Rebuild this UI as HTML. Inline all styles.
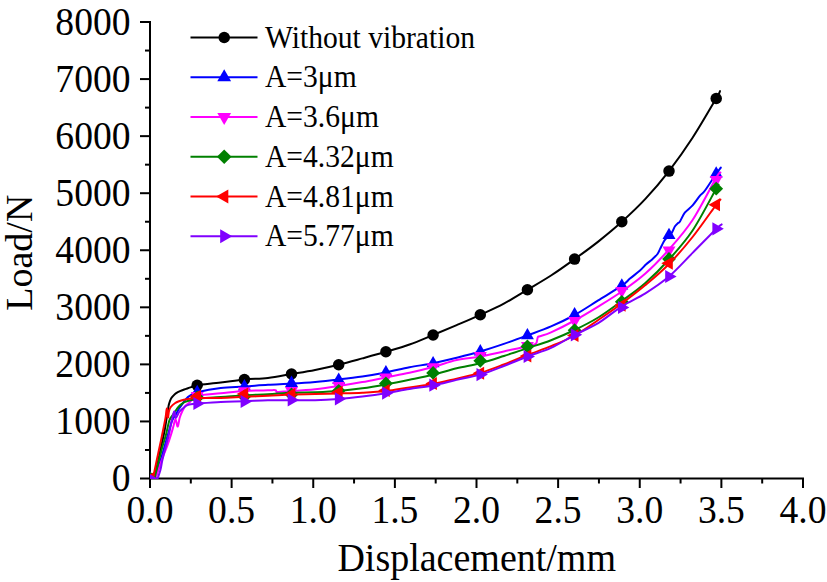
<!DOCTYPE html>
<html><head><meta charset="utf-8"><style>
html,body{margin:0;padding:0;background:#fff;}
body{width:827px;height:582px;overflow:hidden;font-family:"Liberation Serif",serif;}
svg{display:block;}
</style></head><body>
<svg width="827" height="582" viewBox="0 0 827 582">
<defs><clipPath id="pc"><rect x="149.9" y="0" width="680" height="479.1"/></clipPath></defs>
<rect width="827" height="582" fill="#fff"/>
<g stroke="#000" stroke-width="2" fill="none">
<line x1="150" y1="21" x2="150" y2="479.5"/>
<line x1="149" y1="478.5" x2="804" y2="478.5"/>
<line x1="140" y1="478.50" x2="150" y2="478.50"/>
<line x1="140" y1="421.44" x2="150" y2="421.44"/>
<line x1="140" y1="364.38" x2="150" y2="364.38"/>
<line x1="140" y1="307.32" x2="150" y2="307.32"/>
<line x1="140" y1="250.26" x2="150" y2="250.26"/>
<line x1="140" y1="193.20" x2="150" y2="193.20"/>
<line x1="140" y1="136.14" x2="150" y2="136.14"/>
<line x1="140" y1="79.08" x2="150" y2="79.08"/>
<line x1="140" y1="22.02" x2="150" y2="22.02"/>
<line x1="145" y1="449.97" x2="150" y2="449.97"/>
<line x1="145" y1="392.91" x2="150" y2="392.91"/>
<line x1="145" y1="335.85" x2="150" y2="335.85"/>
<line x1="145" y1="278.79" x2="150" y2="278.79"/>
<line x1="145" y1="221.73" x2="150" y2="221.73"/>
<line x1="145" y1="164.67" x2="150" y2="164.67"/>
<line x1="145" y1="107.61" x2="150" y2="107.61"/>
<line x1="145" y1="50.55" x2="150" y2="50.55"/>
<line x1="150.00" y1="478.5" x2="150.00" y2="488"/>
<line x1="231.62" y1="478.5" x2="231.62" y2="488"/>
<line x1="313.25" y1="478.5" x2="313.25" y2="488"/>
<line x1="394.88" y1="478.5" x2="394.88" y2="488"/>
<line x1="476.50" y1="478.5" x2="476.50" y2="488"/>
<line x1="558.12" y1="478.5" x2="558.12" y2="488"/>
<line x1="639.75" y1="478.5" x2="639.75" y2="488"/>
<line x1="721.38" y1="478.5" x2="721.38" y2="488"/>
<line x1="803.00" y1="478.5" x2="803.00" y2="488"/>
<line x1="190.81" y1="478.5" x2="190.81" y2="483.5"/>
<line x1="272.44" y1="478.5" x2="272.44" y2="483.5"/>
<line x1="354.06" y1="478.5" x2="354.06" y2="483.5"/>
<line x1="435.69" y1="478.5" x2="435.69" y2="483.5"/>
<line x1="517.31" y1="478.5" x2="517.31" y2="483.5"/>
<line x1="598.94" y1="478.5" x2="598.94" y2="483.5"/>
<line x1="680.56" y1="478.5" x2="680.56" y2="483.5"/>
<line x1="762.19" y1="478.5" x2="762.19" y2="483.5"/>
</g>
<g clip-path="url(#pc)">
<path d="M154.30,479.00 C154.62,477.50 155.00,475.67 156.20,470.00 C157.40,464.33 160.08,451.67 161.50,445.00 C162.92,438.33 163.67,435.58 164.70,430.00 C165.73,424.42 167.03,415.62 167.70,411.50 C168.37,407.38 168.35,406.97 168.70,405.30 C169.05,403.63 169.38,402.67 169.80,401.50 C170.22,400.33 170.60,399.28 171.20,398.30 C171.80,397.32 172.63,396.42 173.40,395.60 C174.17,394.78 174.70,394.15 175.80,393.40 C176.90,392.65 178.28,391.85 180.00,391.10 C181.72,390.35 184.23,389.57 186.10,388.90 C187.97,388.23 189.35,387.72 191.20,387.10 C193.05,386.48 192.25,385.95 197.18,385.20 C202.11,384.45 212.91,383.55 220.77,382.60 C228.63,381.65 236.50,380.28 244.36,379.50 C252.22,378.72 260.09,378.82 267.95,377.90 C275.81,376.98 283.68,375.33 291.54,374.00 C299.40,372.67 307.27,371.45 315.13,369.90 C322.99,368.35 330.86,366.62 338.72,364.70 C346.58,362.78 354.45,360.55 362.31,358.40 C370.17,356.25 378.04,354.12 385.90,351.80 C393.76,349.48 401.63,347.30 409.49,344.50 C417.35,341.70 425.22,338.23 433.08,335.00 C440.94,331.77 448.81,328.47 456.67,325.10 C464.53,321.73 472.40,318.38 480.26,314.80 C488.12,311.22 495.99,307.78 503.85,303.60 C511.71,299.42 519.58,294.38 527.44,289.70 C535.30,285.02 543.17,280.60 551.03,275.50 C558.89,270.40 566.76,264.75 574.62,259.10 C582.48,253.45 590.35,247.82 598.21,241.60 C606.07,235.38 613.94,228.92 621.80,221.80 C629.66,214.68 637.53,207.35 645.39,198.90 C653.25,190.45 661.12,181.28 668.98,171.10 C676.84,160.92 684.71,149.90 692.57,137.80 C700.43,125.70 711.59,106.28 716.16,98.50 C720.73,90.72 719.36,92.33 720.00,91.10" fill="none" stroke="#000000" stroke-width="2.0" stroke-linejoin="round" stroke-linecap="round"/>
<circle cx="150.2" cy="478.9" r="6.04" fill="#000000"/>
<circle cx="197.2" cy="385.2" r="5.75" fill="#000000"/>
<circle cx="244.4" cy="379.5" r="5.75" fill="#000000"/>
<circle cx="291.5" cy="374.0" r="5.75" fill="#000000"/>
<circle cx="338.7" cy="364.7" r="5.75" fill="#000000"/>
<circle cx="385.9" cy="351.8" r="5.75" fill="#000000"/>
<circle cx="433.1" cy="335.0" r="5.75" fill="#000000"/>
<circle cx="480.3" cy="314.8" r="5.75" fill="#000000"/>
<circle cx="527.4" cy="289.7" r="5.75" fill="#000000"/>
<circle cx="574.6" cy="259.1" r="5.75" fill="#000000"/>
<circle cx="621.8" cy="221.8" r="5.75" fill="#000000"/>
<circle cx="669.0" cy="171.1" r="5.75" fill="#000000"/>
<circle cx="716.2" cy="98.5" r="5.75" fill="#000000"/>
<path d="M155.20,479.00 C155.53,477.83 155.90,476.50 157.20,472.00 C158.50,467.50 161.23,458.17 163.00,452.00 C164.77,445.83 166.27,440.27 167.80,435.00 C169.33,429.73 170.90,423.75 172.20,420.40 C173.50,417.05 174.47,416.85 175.60,414.90 C176.73,412.95 177.85,410.53 179.00,408.70 C180.15,406.87 181.35,405.50 182.50,403.90 C183.65,402.30 184.65,400.47 185.90,399.10 C187.15,397.73 188.12,396.83 190.00,395.70 C191.88,394.57 192.05,393.60 197.18,392.30 C202.31,391.00 212.91,388.87 220.77,387.90 C228.63,386.93 236.50,387.02 244.36,386.50 C252.22,385.98 260.09,385.28 267.95,384.80 C275.81,384.32 283.68,384.08 291.54,383.60 C299.40,383.12 307.27,382.60 315.13,381.90 C322.99,381.20 330.86,380.32 338.72,379.40 C346.58,378.48 354.45,377.57 362.31,376.40 C370.17,375.23 378.04,373.92 385.90,372.40 C393.76,370.88 401.63,368.83 409.49,367.30 C417.35,365.77 425.22,364.80 433.08,363.20 C440.94,361.60 448.81,359.65 456.67,357.70 C464.53,355.75 472.40,353.80 480.26,351.50 C488.12,349.20 495.99,346.58 503.85,343.90 C511.71,341.22 519.58,338.32 527.44,335.40 C535.30,332.48 543.17,329.80 551.03,326.40 C558.89,323.00 566.76,319.33 574.62,315.00 C582.48,310.67 590.35,305.28 598.21,300.40 C606.07,295.52 616.50,289.33 621.80,285.70 C627.10,282.07 626.97,281.13 630.00,278.60 C633.03,276.07 637.30,272.88 640.00,270.50 C642.70,268.12 644.13,266.18 646.20,264.30 C648.27,262.42 650.52,260.92 652.40,259.20 C654.28,257.48 656.22,255.72 657.50,254.00 C658.78,252.28 659.32,250.45 660.10,248.90 C660.88,247.35 661.43,246.17 662.20,244.70 C662.97,243.23 663.57,241.67 664.70,240.10 C665.83,238.53 667.78,236.58 669.00,235.30 C670.22,234.02 671.00,233.92 672.00,232.40 C673.00,230.88 673.98,227.75 675.00,226.20 C676.02,224.65 677.27,223.88 678.10,223.10 C678.93,222.32 678.88,223.23 680.00,221.50 C681.12,219.77 682.70,215.38 684.80,212.70 C686.90,210.02 690.07,208.23 692.60,205.40 C695.13,202.57 697.93,198.18 700.00,195.70 C702.07,193.22 702.31,194.15 705.00,190.50 C707.69,186.85 713.53,177.62 716.16,173.80 C718.79,169.98 720.03,168.63 720.80,167.60" fill="none" stroke="#0000FF" stroke-width="2.0" stroke-linejoin="round" stroke-linecap="round"/>
<polygon points="150.2,471.0 157.0,482.9 143.4,482.9" fill="#0000FF"/>
<polygon points="197.2,384.8 203.7,396.1 190.7,396.1" fill="#0000FF"/>
<polygon points="244.4,379.1 250.9,390.4 237.9,390.4" fill="#0000FF"/>
<polygon points="291.5,375.6 298.0,386.9 285.0,386.9" fill="#0000FF"/>
<polygon points="338.7,372.4 345.2,383.7 332.2,383.7" fill="#0000FF"/>
<polygon points="385.9,364.9 392.4,376.2 379.4,376.2" fill="#0000FF"/>
<polygon points="433.1,355.9 439.6,367.2 426.6,367.2" fill="#0000FF"/>
<polygon points="480.3,344.1 486.8,355.4 473.8,355.4" fill="#0000FF"/>
<polygon points="527.4,327.9 533.9,339.2 520.9,339.2" fill="#0000FF"/>
<polygon points="574.6,306.9 581.1,318.2 568.1,318.2" fill="#0000FF"/>
<polygon points="621.8,278.2 628.3,289.5 615.3,289.5" fill="#0000FF"/>
<polygon points="669.0,227.8 675.5,239.1 662.5,239.1" fill="#0000FF"/>
<polygon points="716.2,166.3 722.7,177.6 709.7,177.6" fill="#0000FF"/>
<path d="M155.10,479.00 C155.63,477.50 156.88,474.00 158.30,470.00 C159.72,466.00 162.05,459.17 163.60,455.00 C165.15,450.83 166.38,448.33 167.60,445.00 C168.82,441.67 169.92,438.17 170.90,435.00 C171.88,431.83 172.73,428.67 173.50,426.00 C174.27,423.33 174.80,418.90 175.50,419.00 C176.20,419.10 177.00,426.82 177.70,426.60 C178.40,426.38 178.90,420.33 179.70,417.70 C180.50,415.07 181.58,412.75 182.50,410.80 C183.42,408.85 184.17,407.27 185.20,406.00 C186.23,404.73 187.40,404.37 188.70,403.20 C190.00,402.03 191.59,400.28 193.00,399.00 C194.41,397.72 192.55,396.47 197.18,395.50 C201.81,394.53 212.91,393.95 220.77,393.20 C228.63,392.45 236.50,391.48 244.36,391.00 C252.22,390.52 262.76,390.43 267.95,390.30 C273.14,390.17 274.06,389.92 275.50,390.20 C276.94,390.48 275.68,391.75 276.60,392.00 C277.52,392.25 278.51,391.83 281.00,391.70 C283.49,391.57 285.85,391.62 291.54,391.20 C297.23,390.78 307.27,390.07 315.13,389.20 C322.99,388.33 330.86,387.18 338.72,386.00 C346.58,384.82 354.45,383.53 362.31,382.10 C370.17,380.67 378.04,378.95 385.90,377.40 C393.76,375.85 401.63,374.53 409.49,372.80 C417.35,371.07 425.22,369.13 433.08,367.00 C440.94,364.87 448.81,361.75 456.67,360.00 C464.53,358.25 472.40,357.93 480.26,356.50 C488.12,355.07 495.99,353.10 503.85,351.40 C511.71,349.70 522.12,347.58 527.44,346.30 C532.77,345.02 534.07,345.22 535.80,343.70 C537.53,342.18 537.10,338.45 537.80,337.20 C538.50,335.95 537.79,337.00 540.00,336.20 C542.21,335.40 545.26,335.02 551.03,332.40 C556.80,329.78 566.76,324.80 574.62,320.50 C582.48,316.20 590.35,311.43 598.21,306.60 C606.07,301.77 613.94,297.00 621.80,291.50 C629.66,286.00 637.53,280.60 645.39,273.60 C653.25,266.60 661.12,258.43 668.98,249.50 C676.84,240.57 684.71,231.95 692.57,220.00 C700.43,208.05 711.52,185.72 716.16,177.80 C720.80,169.88 719.69,173.38 720.40,172.50" fill="none" stroke="#FF00FF" stroke-width="2.0" stroke-linejoin="round" stroke-linecap="round"/>
<polygon points="150.2,486.8 157.0,474.9 143.4,474.9" fill="#FF00FF"/>
<polygon points="197.2,403.4 203.7,392.1 190.7,392.1" fill="#FF00FF"/>
<polygon points="244.4,398.5 250.9,387.2 237.9,387.2" fill="#FF00FF"/>
<polygon points="291.5,398.4 298.0,387.1 285.0,387.1" fill="#FF00FF"/>
<polygon points="338.7,393.3 345.2,382.0 332.2,382.0" fill="#FF00FF"/>
<polygon points="385.9,384.8 392.4,373.5 379.4,373.5" fill="#FF00FF"/>
<polygon points="433.1,374.6 439.6,363.3 426.6,363.3" fill="#FF00FF"/>
<polygon points="480.3,363.3 486.8,352.0 473.8,352.0" fill="#FF00FF"/>
<polygon points="527.4,353.2 533.9,341.9 520.9,341.9" fill="#FF00FF"/>
<polygon points="574.6,328.3 581.1,317.0 568.1,317.0" fill="#FF00FF"/>
<polygon points="621.8,298.2 628.3,286.9 615.3,286.9" fill="#FF00FF"/>
<polygon points="669.0,257.7 675.5,246.4 662.5,246.4" fill="#FF00FF"/>
<polygon points="716.2,187.3 722.7,176.0 709.7,176.0" fill="#FF00FF"/>
<path d="M154.30,479.00 C154.68,477.50 155.82,473.17 156.60,470.00 C157.38,466.83 157.95,464.17 159.00,460.00 C160.05,455.83 161.75,449.17 162.90,445.00 C164.05,440.83 164.82,439.10 165.90,435.00 C166.98,430.90 168.23,423.75 169.40,420.40 C170.57,417.05 171.87,416.50 172.90,414.90 C173.93,413.30 174.68,412.12 175.60,410.80 C176.52,409.48 177.37,408.15 178.40,407.00 C179.43,405.85 180.67,404.75 181.80,403.90 C182.93,403.05 183.93,402.47 185.20,401.90 C186.47,401.33 188.02,400.88 189.40,400.50 C190.78,400.12 192.20,399.95 193.50,399.60 C194.80,399.25 192.63,398.83 197.18,398.40 C201.73,397.97 212.91,397.52 220.77,397.00 C228.63,396.48 236.50,395.77 244.36,395.30 C252.22,394.83 260.09,394.63 267.95,394.20 C275.81,393.77 283.68,393.03 291.54,392.70 C299.40,392.37 307.27,392.48 315.13,392.20 C322.99,391.92 330.86,391.65 338.72,391.00 C346.58,390.35 354.45,389.40 362.31,388.30 C370.17,387.20 378.04,385.82 385.90,384.40 C393.76,382.98 401.63,381.40 409.49,379.80 C417.35,378.20 425.22,376.72 433.08,374.80 C440.94,372.88 448.81,370.23 456.67,368.30 C464.53,366.37 472.40,365.25 480.26,363.20 C488.12,361.15 495.99,358.50 503.85,356.00 C511.71,353.50 519.58,350.83 527.44,348.20 C535.30,345.57 543.17,343.23 551.03,340.20 C558.89,337.17 566.76,333.78 574.62,330.00 C582.48,326.22 590.35,322.33 598.21,317.50 C606.07,312.67 613.94,306.75 621.80,301.00 C629.66,295.25 637.53,289.92 645.39,283.00 C653.25,276.08 661.12,268.25 668.98,259.50 C676.84,250.75 684.71,242.30 692.57,230.50 C700.43,218.70 711.95,196.15 716.16,188.70 C720.37,181.25 717.53,186.28 717.80,185.80" fill="none" stroke="#008000" stroke-width="2.0" stroke-linejoin="round" stroke-linecap="round"/>
<polygon points="150.2,471.7 157.4,478.9 150.2,486.1 143.0,478.9" fill="#008000"/>
<polygon points="197.2,390.6 204.1,397.5 197.2,404.4 190.3,397.5" fill="#008000"/>
<polygon points="244.4,389.5 251.3,396.4 244.4,403.3 237.5,396.4" fill="#008000"/>
<polygon points="291.5,387.5 298.4,394.4 291.5,401.3 284.6,394.4" fill="#008000"/>
<polygon points="338.7,383.9 345.6,390.8 338.7,397.7 331.8,390.8" fill="#008000"/>
<polygon points="385.9,376.5 392.8,383.4 385.9,390.3 379.0,383.4" fill="#008000"/>
<polygon points="433.1,366.0 440.0,372.9 433.1,379.8 426.2,372.9" fill="#008000"/>
<polygon points="480.3,353.9 487.2,360.8 480.3,367.7 473.4,360.8" fill="#008000"/>
<polygon points="527.4,339.5 534.3,346.4 527.4,353.3 520.5,346.4" fill="#008000"/>
<polygon points="574.6,323.3 581.5,330.2 574.6,337.1 567.7,330.2" fill="#008000"/>
<polygon points="621.8,294.9 628.7,301.8 621.8,308.7 614.9,301.8" fill="#008000"/>
<polygon points="669.0,252.1 675.9,259.0 669.0,265.9 662.1,259.0" fill="#008000"/>
<polygon points="716.2,181.8 723.1,188.7 716.2,195.6 709.3,188.7" fill="#008000"/>
<path d="M152.80,479.00 C153.12,477.50 154.03,473.17 154.70,470.00 C155.37,466.83 155.92,464.17 156.80,460.00 C157.68,455.83 159.12,449.17 160.00,445.00 C160.88,440.83 161.18,439.50 162.10,435.00 C163.02,430.50 164.72,422.40 165.50,418.00 C166.28,413.60 166.40,408.68 166.80,408.60 C167.20,408.52 167.53,417.10 167.90,417.50 C168.27,417.90 168.52,412.75 169.00,411.00 C169.48,409.25 169.82,408.30 170.80,407.00 C171.78,405.70 173.53,404.17 174.90,403.20 C176.27,402.23 177.50,401.77 179.00,401.20 C180.50,400.63 182.17,400.20 183.90,399.80 C185.63,399.40 187.19,399.12 189.40,398.80 C191.61,398.48 191.95,398.03 197.18,397.90 C202.41,397.77 212.91,398.18 220.77,398.00 C228.63,397.82 236.50,397.17 244.36,396.80 C252.22,396.43 260.09,396.18 267.95,395.80 C275.81,395.42 283.68,394.78 291.54,394.50 C299.40,394.22 307.27,394.27 315.13,394.10 C322.99,393.93 330.86,393.73 338.72,393.50 C346.58,393.27 354.45,393.12 362.31,392.70 C370.17,392.28 378.04,391.88 385.90,391.00 C393.76,390.12 401.63,388.57 409.49,387.40 C417.35,386.23 425.22,385.47 433.08,384.00 C440.94,382.53 448.81,380.43 456.67,378.60 C464.53,376.77 472.40,375.35 480.26,373.00 C488.12,370.65 495.99,367.50 503.85,364.50 C511.71,361.50 519.58,358.05 527.44,355.00 C535.30,351.95 543.17,349.45 551.03,346.20 C558.89,342.95 566.76,339.87 574.62,335.50 C582.48,331.13 590.35,325.33 598.21,320.00 C606.07,314.67 613.94,309.32 621.80,303.50 C629.66,297.68 637.53,291.68 645.39,285.10 C653.25,278.52 661.12,272.02 668.98,264.00 C676.84,255.98 684.71,246.87 692.57,237.00 C700.43,227.13 711.52,211.05 716.16,204.80 C720.80,198.55 719.69,200.38 720.40,199.50" fill="none" stroke="#FF0000" stroke-width="2.0" stroke-linejoin="round" stroke-linecap="round"/>
<polygon points="142.1,478.9 154.2,472.1 154.2,485.7" fill="#FF0000"/>
<polygon points="189.5,396.3 201.0,389.8 201.0,402.8" fill="#FF0000"/>
<polygon points="236.7,394.1 248.2,387.6 248.2,400.6" fill="#FF0000"/>
<polygon points="283.9,394.2 295.4,387.7 295.4,400.7" fill="#FF0000"/>
<polygon points="331.1,392.3 342.6,385.8 342.6,398.8" fill="#FF0000"/>
<polygon points="378.2,390.5 389.7,384.0 389.7,397.0" fill="#FF0000"/>
<polygon points="425.4,383.4 436.9,376.9 436.9,389.9" fill="#FF0000"/>
<polygon points="472.6,373.2 484.1,366.7 484.1,379.7" fill="#FF0000"/>
<polygon points="519.8,356.0 531.3,349.5 531.3,362.5" fill="#FF0000"/>
<polygon points="567.0,335.5 578.5,329.0 578.5,342.0" fill="#FF0000"/>
<polygon points="614.1,305.2 625.6,298.7 625.6,311.7" fill="#FF0000"/>
<polygon points="661.3,263.3 672.8,256.8 672.8,269.8" fill="#FF0000"/>
<polygon points="708.5,204.8 720.0,198.3 720.0,211.3" fill="#FF0000"/>
<path d="M157.40,479.00 C157.90,477.50 159.57,473.17 160.40,470.00 C161.23,466.83 161.43,464.17 162.40,460.00 C163.37,455.83 165.13,449.17 166.20,445.00 C167.27,440.83 167.92,438.83 168.80,435.00 C169.68,431.17 170.60,425.92 171.50,422.00 C172.40,418.08 173.48,412.17 174.20,411.50 C174.92,410.83 175.00,417.88 175.80,418.00 C176.60,418.12 177.88,413.75 179.00,412.20 C180.12,410.65 181.35,409.73 182.50,408.70 C183.65,407.67 184.75,406.68 185.90,406.00 C187.05,405.32 188.13,404.95 189.40,404.60 C190.67,404.25 192.20,404.08 193.50,403.90 C194.80,403.72 192.63,403.83 197.18,403.50 C201.73,403.17 212.91,402.28 220.77,401.90 C228.63,401.52 236.50,401.48 244.36,401.20 C252.22,400.92 260.09,400.37 267.95,400.20 C275.81,400.03 283.68,400.18 291.54,400.20 C299.40,400.22 307.27,400.50 315.13,400.30 C322.99,400.10 330.86,399.63 338.72,399.00 C346.58,398.37 354.45,397.47 362.31,396.50 C370.17,395.53 378.04,394.45 385.90,393.20 C393.76,391.95 401.63,390.28 409.49,389.00 C417.35,387.72 425.22,387.02 433.08,385.50 C440.94,383.98 448.81,381.72 456.67,379.90 C464.53,378.08 472.40,376.92 480.26,374.60 C488.12,372.28 495.99,369.02 503.85,366.00 C511.71,362.98 519.58,359.52 527.44,356.50 C535.30,353.48 543.17,351.48 551.03,347.90 C558.89,344.32 566.76,339.13 574.62,335.00 C582.48,330.87 590.35,327.88 598.21,323.10 C606.07,318.32 613.94,311.27 621.80,306.30 C629.66,301.33 637.53,298.27 645.39,293.30 C653.25,288.33 661.12,283.23 668.98,276.50 C676.84,269.77 684.71,260.82 692.57,252.90 C700.43,244.98 711.32,233.75 716.16,229.00 C721.00,224.25 720.69,225.17 721.60,224.40" fill="none" stroke="#8000FF" stroke-width="2.0" stroke-linejoin="round" stroke-linecap="round"/>
<polygon points="158.2,478.9 146.2,472.0 146.2,485.8" fill="#8000FF"/>
<polygon points="204.8,403.5 193.4,396.9 193.4,410.1" fill="#8000FF"/>
<polygon points="252.0,401.5 240.6,394.9 240.6,408.1" fill="#8000FF"/>
<polygon points="299.1,400.0 287.7,393.4 287.7,406.6" fill="#8000FF"/>
<polygon points="346.3,398.8 334.9,392.2 334.9,405.4" fill="#8000FF"/>
<polygon points="393.5,393.1 382.1,386.5 382.1,399.7" fill="#8000FF"/>
<polygon points="440.7,385.2 429.3,378.6 429.3,391.8" fill="#8000FF"/>
<polygon points="487.9,374.6 476.5,368.0 476.5,381.2" fill="#8000FF"/>
<polygon points="535.0,356.5 523.6,349.9 523.6,363.1" fill="#8000FF"/>
<polygon points="582.2,334.8 570.8,328.2 570.8,341.4" fill="#8000FF"/>
<polygon points="629.4,307.5 618.0,300.9 618.0,314.1" fill="#8000FF"/>
<polygon points="676.6,276.5 665.2,269.9 665.2,283.1" fill="#8000FF"/>
<polygon points="723.8,228.8 712.4,222.2 712.4,235.4" fill="#8000FF"/>
</g>
<g font-family="Liberation Serif, serif" font-size="37.6" fill="#000">
<text transform="translate(130.5,491.4) scale(1,1.045)" text-anchor="end">0</text>
<text transform="translate(130.5,434.3) scale(1,1.045)" text-anchor="end">1000</text>
<text transform="translate(130.5,377.3) scale(1,1.045)" text-anchor="end">2000</text>
<text transform="translate(130.5,320.2) scale(1,1.045)" text-anchor="end">3000</text>
<text transform="translate(130.5,263.2) scale(1,1.045)" text-anchor="end">4000</text>
<text transform="translate(130.5,206.1) scale(1,1.045)" text-anchor="end">5000</text>
<text transform="translate(130.5,149.0) scale(1,1.045)" text-anchor="end">6000</text>
<text transform="translate(130.5,92.0) scale(1,1.045)" text-anchor="end">7000</text>
<text transform="translate(130.5,34.9) scale(1,1.045)" text-anchor="end">8000</text>
<text transform="translate(150.0,523.3) scale(1,1.045)" text-anchor="middle">0.0</text>
<text transform="translate(231.6,523.3) scale(1,1.045)" text-anchor="middle">0.5</text>
<text transform="translate(313.2,523.3) scale(1,1.045)" text-anchor="middle">1.0</text>
<text transform="translate(394.9,523.3) scale(1,1.045)" text-anchor="middle">1.5</text>
<text transform="translate(476.5,523.3) scale(1,1.045)" text-anchor="middle">2.0</text>
<text transform="translate(558.1,523.3) scale(1,1.045)" text-anchor="middle">2.5</text>
<text transform="translate(639.8,523.3) scale(1,1.045)" text-anchor="middle">3.0</text>
<text transform="translate(721.4,523.3) scale(1,1.045)" text-anchor="middle">3.5</text>
<text transform="translate(803.0,523.3) scale(1,1.045)" text-anchor="middle">4.0</text>
<text transform="translate(476.7,571.1) scale(1,1.045)" font-size="38" text-anchor="middle">Displacement/mm</text>
<text transform="translate(31.6,252.7) rotate(-90) scale(1,1.0)" font-size="38" text-anchor="middle">Load/N</text>
</g>
<g font-family="Liberation Serif, serif" font-size="29.6" fill="#000">
<line x1="190.5" y1="37.5" x2="257.5" y2="37.5" stroke="#000000" stroke-width="1.9"/>
<circle cx="224.2" cy="37.5" r="5.75" fill="#000000"/>
<text transform="translate(265,47.7) scale(1,1.04)">Without vibration</text>
<line x1="190.5" y1="77.2" x2="257.5" y2="77.2" stroke="#0000FF" stroke-width="1.9"/>
<polygon points="224.2,69.3 231.1,81.2 217.3,81.2" fill="#0000FF"/>
<text transform="translate(265,87.4) scale(1,1.04)">A=3μm</text>
<line x1="190.5" y1="117.0" x2="257.5" y2="117.0" stroke="#FF00FF" stroke-width="1.9"/>
<polygon points="224.2,125.0 231.1,113.0 217.3,113.0" fill="#FF00FF"/>
<text transform="translate(265,127.2) scale(1,1.04)">A=3.6μm</text>
<line x1="190.5" y1="156.7" x2="257.5" y2="156.7" stroke="#008000" stroke-width="1.9"/>
<polygon points="224.2,149.4 231.5,156.7 224.2,164.0 216.9,156.7" fill="#008000"/>
<text transform="translate(265,166.9) scale(1,1.04)">A=4.32μm</text>
<line x1="190.5" y1="196.5" x2="257.5" y2="196.5" stroke="#FF0000" stroke-width="1.9"/>
<polygon points="216.1,196.5 228.3,189.6 228.3,203.4" fill="#FF0000"/>
<text transform="translate(265,206.7) scale(1,1.04)">A=4.81μm</text>
<line x1="190.5" y1="236.2" x2="257.5" y2="236.2" stroke="#8000FF" stroke-width="1.9"/>
<polygon points="232.3,236.2 220.2,229.2 220.2,243.2" fill="#8000FF"/>
<text transform="translate(265,246.4) scale(1,1.04)">A=5.77μm</text>
</g>
</svg>
</body></html>
